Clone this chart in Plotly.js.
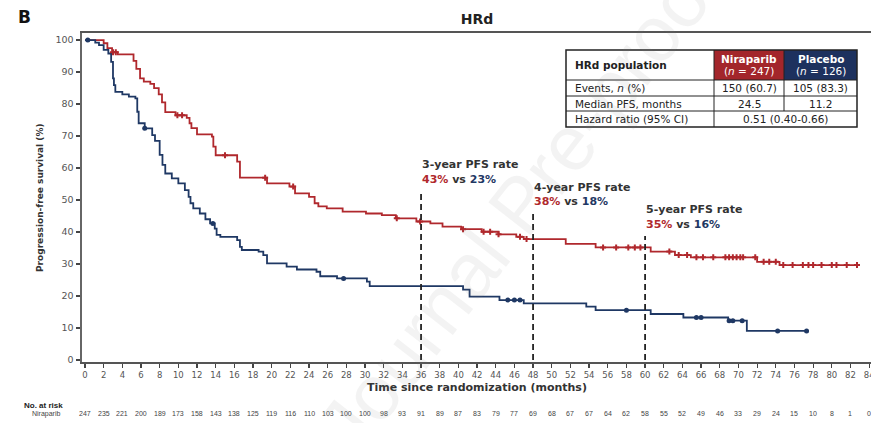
<!DOCTYPE html>
<html>
<head>
<meta charset="utf-8">
<script src="https://cdn.plot.ly/plotly-3.0.1.min.js"></script>
<style>
  html, body { margin: 0; padding: 0; background: #fff; }
  #chart { width: 871px; height: 423px; }
</style>
</head>
<body>
<div id="chart"></div>
<script>
// Kaplan-Meier progression-free survival, HRd population

// Niraparib arm: step times (months) and survival (%) after each step
const nirTimes = [0, 2.0, 2.4, 2.9, 3.5, 5.2, 5.5, 5.9, 6.3, 7.0, 7.4, 7.9, 8.25, 8.6, 9.7, 10.9, 11.2, 11.4, 12.0, 13.6, 13.75, 14.0, 16.3, 16.6, 19.5, 21.9, 22.5, 24.0, 24.6, 25.0, 25.9, 27.6, 30.1, 31.8, 33.3, 35.5, 37.0, 38.3, 40.3, 42.5, 44.3, 46.2, 47.0, 51.5, 54.7, 60.6, 63.2, 64.9, 72.0, 74.4, 82.9];
const nirSurv  = [100, 99, 97.5, 96.2, 95.5, 93.5, 91, 88, 87, 86.3, 85, 83, 80.5, 77.5, 76.5, 75.7, 74, 72.5, 70.5, 69.8, 66.7, 64, 62, 57, 55.2, 54.2, 52.1, 51, 49, 48, 47.4, 46.4, 45.8, 45.3, 44.3, 43.3, 42.7, 41.7, 40.9, 40.1, 39.3, 38.5, 37.8, 36.3, 35.2, 33.9, 32.8, 32.1, 30.7, 29.7, 29.7];
const nirCensored = [3.0, 3.3, 9.9, 10.4, 15.0, 19.3, 22.3, 33.4, 35.9, 40.5, 42.7, 43.4, 44.3, 46.6, 47.3, 55.5, 56.9, 58.2, 58.9, 59.5, 62.6, 63.6, 64.5, 65.5, 66.2, 67.3, 68.6, 69.0, 69.4, 69.8, 70.2, 70.5, 71.8, 72.7, 73.3, 74.0, 74.8, 75.8, 76.9, 77.5, 78.0, 78.9, 80.0, 80.5, 81.6, 82.7];

// Placebo arm
const plaTimes = [0, 1.1, 1.5, 2.0, 2.5, 2.8, 3.0, 3.1, 3.25, 4.0, 4.7, 5.4, 5.6, 5.75, 6.4, 7.2, 7.5, 8.0, 8.3, 8.6, 9.3, 10.0, 10.7, 11.1, 11.3, 11.6, 12.3, 12.9, 13.4, 13.9, 14.1, 14.5, 16.3, 16.6, 16.8, 18.6, 19.1, 19.5, 21.6, 22.7, 24.8, 25.2, 27.0, 30.2, 30.5, 40.5, 41.2, 44.4, 47.0, 53.7, 54.7, 60.6, 64.1, 68.9, 70.9, 77.3];
const plaSurv  = [100, 99.2, 98.4, 96.9, 95.8, 93.2, 88, 85.9, 83.8, 83.0, 82.3, 81.8, 77.6, 74, 72.4, 70.3, 68.5, 64.1, 61, 58.3, 56.8, 55.2, 53.1, 51, 49, 47.4, 45.8, 44, 42.7, 41.1, 39.1, 38.5, 37.5, 35.4, 34.4, 33.9, 32.8, 30.2, 29.2, 28.3, 27.6, 26.2, 25.5, 24.5, 23.1, 22, 19.8, 18.75, 17.7, 16.7, 15.6, 14.4, 13.3, 12.3, 9.1, 9.1];
const plaCensored = [0.3, 6.4, 13.7, 27.7, 45.3, 46.0, 46.6, 58.0, 65.5, 66.0, 69.0, 69.4, 70.4, 74.2, 77.3];

// Landmark PFS rates
const landmarkMonths = [36, 48, 60];
const landmarkLabels = ['3-year PFS rate', '4-year PFS rate', '5-year PFS rate'];
const landmarkNir = [43, 38, 35];
const landmarkPla = [23, 18, 16];
const landmarkLineTop = [52.6, 45.8, 38.8];

// Number at risk, Niraparib arm
const riskMonths = [0, 2, 4, 6, 8, 10, 12, 14, 16, 18, 20, 22, 24, 26, 28, 30, 32, 34, 36, 38, 40, 42, 44, 46, 48, 50, 52, 54, 56, 58, 60, 62, 64, 66, 68, 70, 72, 74, 76, 78, 80, 82, 84];
const riskNir = [247, 235, 221, 200, 189, 173, 158, 143, 138, 125, 119, 116, 110, 103, 100, 100, 98, 93, 91, 89, 87, 83, 79, 77, 69, 68, 67, 67, 64, 62, 58, 55, 52, 49, 46, 33, 29, 24, 15, 10, 8, 1, 0];

// Summary table
const tableRowLabels = ['Events, <i>n</i> (%)', 'Median PFS, months', 'Hazard ratio (95% CI)'];
const tableNir = ['150 (60.7)', '24.5'];
const tablePla = ['105 (83.3)', '11.2'];
const tableHR = '0.51 (0.40-0.66)';
const nirN = 247, plaN = 126;

const RED = '#B0282D';
const NAVY = '#1F3864';
const FONT = 'DejaVu Sans, Verdana, sans-serif';
const SMALL = 'Liberation Sans, Arial, sans-serif';

function survAt(times, surv, t) {
  let v = surv[0];
  for (let i = 0; i < times.length; i++) { if (times[i] <= t) v = surv[i]; }
  return v;
}

// plot area in pixels: left 82, right 871, top 33, bottom 362
const PL = 82, PW = 789, PT = 33, PB = 362, PH = PB - PT;
const px = x => (x - PL) / PW;
const py = y => (PB - y) / PH;

const traces = [
  { x: nirTimes, y: nirSurv, mode: 'lines', line: { shape: 'hv', color: RED, width: 1.8 }, hoverinfo: 'skip' },
  { x: plaTimes, y: plaSurv, mode: 'lines', line: { shape: 'hv', color: NAVY, width: 1.8 }, hoverinfo: 'skip' },
  { x: nirCensored, y: nirCensored.map(t => survAt(nirTimes, nirSurv, t)), mode: 'markers',
    marker: { symbol: 'cross', size: 5, color: RED }, hoverinfo: 'skip' },
  { x: plaCensored, y: plaCensored.map(t => survAt(plaTimes, plaSurv, t)), mode: 'markers',
    marker: { symbol: 'circle', size: 5, color: NAVY }, hoverinfo: 'skip' }
];

landmarkMonths.forEach((m, i) => {
  traces.push({ x: [m, m], y: [0, landmarkLineTop[i]], mode: 'lines',
    line: { color: '#222', width: 1.8, dash: '6px,4px' }, hoverinfo: 'skip' });
});

const annotations = [];
const shapes = [];

function note(o) {
  annotations.push(Object.assign({ xref: 'paper', yref: 'paper', xanchor: 'center', yanchor: 'middle', showarrow: false }, o));
}

// landmark labels
const landmarkTitleY = [165, 187, 210];
landmarkMonths.forEach((m, i) => {
  note({ x: m - 0.15, y: py(landmarkTitleY[i]), xref: 'x', xanchor: 'left',
    text: '<b>' + landmarkLabels[i] + '</b>', font: { family: FONT, size: 11, color: '#333' } });
  note({ x: m - 0.15, y: py(landmarkTitleY[i] + 14), xref: 'x', xanchor: 'left',
    text: '<b><span style="color:' + RED + '">' + landmarkNir[i] + '%</span> vs <span style="color:' + NAVY + '">' + landmarkPla[i] + '%</span></b>',
    font: { family: FONT, size: 11, color: '#333' } });
});

// number at risk
note({ x: px(22), y: py(405), xanchor: 'left', text: '<b>No. at risk</b>', font: { family: SMALL, size: 8, color: '#222' } });
note({ x: px(30), y: py(414), xanchor: 'left', text: 'Niraparib', font: { family: SMALL, size: 7, color: '#444' } });
riskMonths.forEach((m, i) => {
  note({ x: m, y: py(414), xref: 'x', text: String(riskNir[i]), font: { family: SMALL, size: 7, color: '#444' } });
});

// axis titles and panel letter
note({ x: px(477), y: py(387), text: '<b>Time since randomization (months)</b>', font: { family: FONT, size: 11, color: '#333' } });
note({ x: px(40), y: py(198), textangle: -90, text: '<b>Progression-free survival (%)</b>', font: { family: FONT, size: 9, color: '#333' } });
note({ x: px(24), y: py(17), text: '<b>B</b>', font: { family: FONT, size: 17, color: '#111' } });

// watermark
note({ x: px(520), y: py(205), textangle: -52, text: 'Journal Pre-proof', font: { family: SMALL, size: 78, color: 'rgba(120,120,120,0.09)' } });

// summary table
const colX = [566, 714, 784, 857];
const rowY = [50, 80, 96, 111, 127];
shapes.push({ type: 'rect', xref: 'paper', yref: 'paper', x0: px(colX[1]), x1: px(colX[2]), y0: py(rowY[0]), y1: py(rowY[1]),
  fillcolor: '#A3262B', line: { width: 0 } });
shapes.push({ type: 'rect', xref: 'paper', yref: 'paper', x0: px(colX[2]), x1: px(colX[3]), y0: py(rowY[0]), y1: py(rowY[1]),
  fillcolor: '#1D315E', line: { width: 0 } });
shapes.push({ type: 'rect', xref: 'paper', yref: 'paper', x0: px(colX[0]), x1: px(colX[3]), y0: py(rowY[0]), y1: py(rowY[4]),
  fillcolor: 'rgba(0,0,0,0)', line: { color: '#222', width: 1.5 } });
for (let r = 1; r < 4; r++) {
  shapes.push({ type: 'line', xref: 'paper', yref: 'paper', x0: px(colX[0]), x1: px(colX[3]), y0: py(rowY[r]), y1: py(rowY[r]),
    line: { color: '#222', width: 1 } });
}
shapes.push({ type: 'line', xref: 'paper', yref: 'paper', x0: px(colX[1]), x1: px(colX[1]), y0: py(rowY[0]), y1: py(rowY[4]),
  line: { color: '#222', width: 1 } });
shapes.push({ type: 'line', xref: 'paper', yref: 'paper', x0: px(colX[2]), x1: px(colX[2]), y0: py(rowY[0]), y1: py(rowY[3]),
  line: { color: '#222', width: 1 } });

const cellFont = { family: FONT, size: 10.5, color: '#222' };
const headFont = { family: FONT, size: 10.5, color: '#fff' };
const midY = r => py((rowY[r] + rowY[r + 1]) / 2);
note({ x: px(colX[0] + 7), y: midY(0), xanchor: 'left', text: '<b>HRd population</b>', font: cellFont });
note({ x: px((colX[1] + colX[2]) / 2), y: py(58.5), text: '<b>Niraparib</b>', font: headFont });
note({ x: px((colX[1] + colX[2]) / 2), y: py(70.5), text: '(<i>n</i> = ' + nirN + ')', font: headFont });
note({ x: px((colX[2] + colX[3]) / 2), y: py(58.5), text: '<b>Placebo</b>', font: headFont });
note({ x: px((colX[2] + colX[3]) / 2), y: py(70.5), text: '(<i>n</i> = ' + plaN + ')', font: headFont });
tableRowLabels.forEach((lab, i) => {
  note({ x: px(colX[0] + 7), y: midY(i + 1), xanchor: 'left', text: lab, font: cellFont });
});
tableNir.forEach((v, i) => {
  note({ x: px((colX[1] + colX[2]) / 2), y: midY(i + 1), text: v, font: cellFont });
});
tablePla.forEach((v, i) => {
  note({ x: px((colX[2] + colX[3]) / 2), y: midY(i + 1), text: v, font: cellFont });
});
note({ x: px((colX[1] + colX[3]) / 2), y: midY(3), text: tableHR, font: cellFont });

const layout = {
  width: 871, height: 423,
  margin: { l: PL, r: 871 - PL - PW, t: PT, b: 423 - PB },
  paper_bgcolor: '#fff', plot_bgcolor: '#fff',
  showlegend: false,
  font: { family: FONT },
  title: { text: '<b>HRd</b>', x: 477 / 871, xanchor: 'center', y: 1 - 19 / 423, yanchor: 'middle', yref: 'container',
    font: { family: FONT, size: 14, color: '#222' } },
  xaxis: {
    range: [-0.32, 84.2], dtick: 2, tick0: 0, ticks: 'outside', ticklen: 4, tickwidth: 1.2, tickcolor: '#444',
    showline: true, linecolor: '#555', linewidth: 2, mirror: true, showgrid: false, zeroline: false,
    ticklabeloverflow: 'allow',
    tickfont: { family: FONT, size: 8.5, color: '#555' }
  },
  yaxis: {
    range: [-0.6, 102.2], dtick: 10, tick0: 0, ticks: 'outside', ticklen: 4, tickwidth: 1.2, tickcolor: '#444',
    showline: true, linecolor: '#666', linewidth: 2.5, showgrid: false, zeroline: false,
    tickfont: { family: FONT, size: 9.5, color: '#555' }
  },
  annotations: annotations,
  shapes: shapes
};

Plotly.newPlot('chart', traces, layout, { staticPlot: true, displayModeBar: false });
</script>
</body>
</html>
